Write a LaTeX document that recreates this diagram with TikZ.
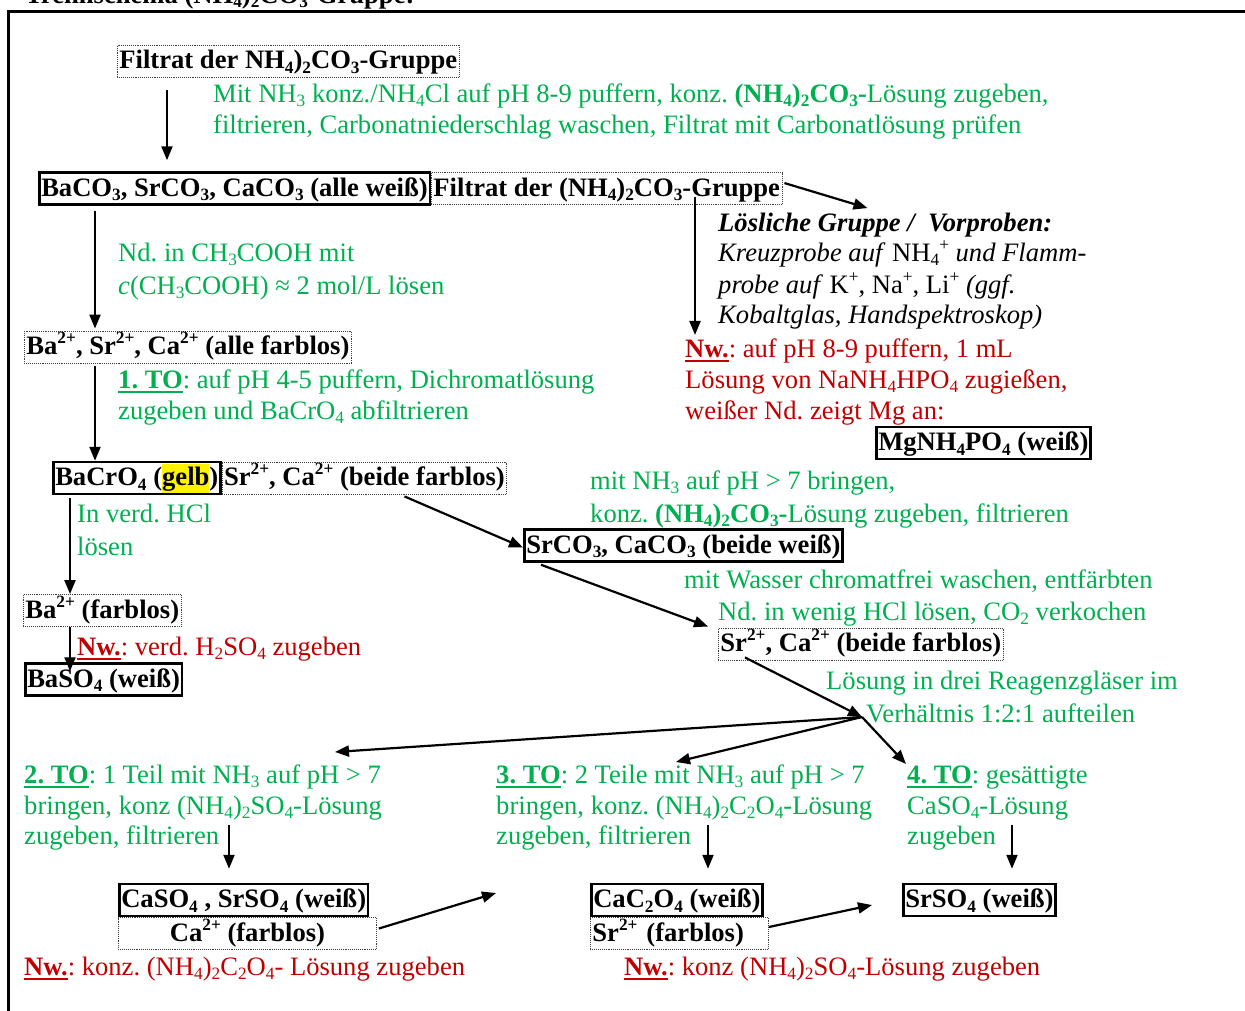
\documentclass[tikz,border=0pt]{standalone}
\usepackage{fontspec}
\setmainfont{Liberation Serif}
\usetikzlibrary{arrows.meta,calc}
\definecolor{tgreen}{RGB}{0,176,80}
\definecolor{tred}{RGB}{192,0,0}
\frenchspacing
% chemical sub- and superscripts
\newcommand\chsub[1]{\raisebox{-0.17em}{\fontsize{17.3}{18}\selectfont #1}}
\newcommand\chsup[1]{\raisebox{0.4em}{\fontsize{17.3}{18}\selectfont #1}}
% bold underlined keyword (Nw., TO)
\newcommand\ulb[1]{\setbox0=\hbox{\bfseries #1}\rlap{\rule[-5pt]{\wd0}{2.5pt}}\box0}
% highlighted word
\newcommand\hlt[1]{{\setlength\fboxsep{0pt}\colorbox{yellow}{\rule[-7pt]{0pt}{29pt}#1}}}
\begin{document}
\begin{tikzpicture}[x=1pt,y=-1pt,
  every node/.style={font=\fontsize{26.6}{31}\selectfont, inner sep=0pt},
  txt/.style={anchor=base west},
  grn/.style={txt,text=tgreen},
  rd/.style={txt,text=tred},
  box/.style={anchor=west,font=\fontsize{26.6}{31}\selectfont\bfseries,
    text height=22pt,text depth=7pt,inner xsep=2pt,inner ysep=1.5pt},
  solidbox/.style={box,draw,line width=2.5pt},
  dotbox/.style={box,draw=black!75,densely dotted,line width=0.9pt},
  arr/.style={line width=2.2pt,-{Triangle[length=14pt,width=11pt]}},
  frame/.style={line width=3pt}]
\useasboundingbox (0,0) rectangle (1245,1010);
\clip (0,0) rectangle (1245,1010);

% heading and frame
\node[txt,font=\fontsize{26.6}{31}\selectfont\bfseries] (title) at (25,3)
  {Trennschema (NH\chsub{4})\chsub{2}CO\chsub{3}-Gruppe:};
\draw[frame] (1260,11) -- (8,11) -- (8,1020);

% boxes
\node[dotbox]   (n1)  at (117,61)    {Filtrat der NH\chsub{4})\chsub{2}CO\chsub{3}-Gruppe};
\node[solidbox] (n2)  at (38,188.5)  {BaCO\chsub{3}, SrCO\chsub{3}, CaCO\chsub{3} (alle weiß)};
\node[dotbox]   (n3)  at (n2.east)   {Filtrat der (NH\chsub{4})\chsub{2}CO\chsub{3}-Gruppe};
\node[solidbox] (n4)  at (875,443)   {MgNH\chsub{4}PO\chsub{4} (weiß)};
\node[dotbox]   (n5)  at (24,347)    {Ba\chsup{2+}, Sr\chsup{2+}, Ca\chsup{2+} (alle farblos)};
\node[solidbox] (n6)  at (52,478)    {BaCrO\chsub{4} (\hlt{gelb})};
\node[dotbox]   (n7)  at (n6.east)   {Sr\chsup{2+}, Ca\chsup{2+} (beide farblos)};
\node[solidbox] (n8)  at (523,545.5) {SrCO\chsub{3}, CaCO\chsub{3} (beide weiß)};
\node[dotbox]   (n9)  at (23,610.5)  {Ba\chsup{2+} (farblos)};
\node[solidbox] (n10) at (24,679.5)  {BaSO\chsub{4} (weiß)};
\node[dotbox]   (n11) at (718,644)   {Sr\chsup{2+}, Ca\chsup{2+} (beide farblos)};
\node[solidbox] (n12) at (118,900)   {CaSO\chsub{4} , SrSO\chsub{4} (weiß)};
\node[dotbox,minimum width=258pt] (n13) at (118,933.5) {Ca\chsup{2+} (farblos)};
\node[solidbox] (n14) at (590,900)   {CaC\chsub{2}O\chsub{4} (weiß)};
\node[dotbox,text width=174pt,align=left] (n15) at (590,933.5) {Sr\chsup{2+} (farblos)};
\node[solidbox] (n16) at (902,900)   {SrSO\chsub{4} (weiß)};

% instructions
\node[grn] (t1a) at (213,102) {Mit NH\chsub{3} konz./NH\chsub{4}Cl auf pH 8-9 puffern, konz. \textbf{(NH\chsub{4})\chsub{2}CO\chsub{3}-}Lösung zugeben,};
\node[grn] (t1b) at (213,133) {filtrieren, Carbonatniederschlag waschen, Filtrat mit Carbonatlösung prüfen};

\node[grn] (t2a) at (118,261) {Nd. in CH\chsub{3}COOH mit};
\node[grn] (t2b) at (118,294) {\textit{c}(CH\chsub{3}COOH) ≈ 2 mol/L lösen};

\node[txt] (t3a) at (718,231) {\textbf{\textit{Lösliche Gruppe /\ \ Vorproben:}}};
\node[txt] (t3b) at (718,261) {\textit{Kreuzprobe auf} NH\chsub{4}\chsup{+} \textit{und Flamm-}};
\node[txt] (t3c) at (718,293) {\textit{probe auf} K\chsup{+}, Na\chsup{+}, Li\chsup{+} \textit{(ggf.}};
\node[txt] (t3d) at (718,323) {\textit{Kobaltglas, Handspektroskop)}};

\node[rd] (t4a) at (685,357) {\ulb{Nw.}: auf pH 8-9 puffern, 1 mL};
\node[rd] (t4b) at (685,388) {Lösung von NaNH\chsub{4}HPO\chsub{4} zugießen,};
\node[rd] (t4c) at (685,419) {weißer Nd. zeigt Mg an:};

\node[grn] (t5a) at (118,388) {\ulb{1. TO}: auf pH 4-5 puffern, Dichromatlösung};
\node[grn] (t5b) at (118,419) {zugeben und BaCrO\chsub{4} abfiltrieren};

\node[grn] (t6a) at (590,489) {mit NH\chsub{3} auf pH > 7 bringen,};
\node[grn] (t6b) at (590,522) {konz. \textbf{(NH\chsub{4})\chsub{2}CO\chsub{3}-}Lösung zugeben, filtrieren};

\node[grn] (t7a) at (77,522) {In verd. HCl};
\node[grn] (t7b) at (77,555) {lösen};
\node[rd]  (t8)  at (77,655) {\ulb{Nw.}: verd. H\chsub{2}SO\chsub{4} zugeben};

\node[grn] (t9a) at (684,588) {mit Wasser chromatfrei waschen, entfärbten};
\node[grn] (t9b) at (718,620) {Nd. in wenig HCl lösen, CO\chsub{2} verkochen};

\node[grn] (t10a) at (826,689) {Lösung in drei Reagenzgläser im};
\node[grn] (t10b) at (866,722) {Verhältnis 1:2:1 aufteilen};

\node[grn] (t11a) at (24,783) {\ulb{2. TO}: 1 Teil mit NH\chsub{3} auf pH > 7};
\node[grn] (t11b) at (24,814) {bringen, konz (NH\chsub{4})\chsub{2}SO\chsub{4}-Lösung};
\node[grn] (t11c) at (24,844) {zugeben, filtrieren};

\node[grn] (t12a) at (496,783) {\ulb{3. TO}: 2 Teile mit NH\chsub{3} auf pH > 7};
\node[grn] (t12b) at (496,814) {bringen, konz. (NH\chsub{4})\chsub{2}C\chsub{2}O\chsub{4}-Lösung};
\node[grn] (t12c) at (496,844) {zugeben, filtrieren};

\node[grn] (t13a) at (907,783) {\ulb{4. TO}: gesättigte};
\node[grn] (t13b) at (907,814) {CaSO\chsub{4}-Lösung};
\node[grn] (t13c) at (907,844) {zugeben};

\node[rd] (t14) at (24,975)  {\ulb{Nw.}: konz. (NH\chsub{4})\chsub{2}C\chsub{2}O\chsub{4}- Lösung zugeben};
\node[rd] (t15) at (624,975) {\ulb{Nw.}: konz (NH\chsub{4})\chsub{2}SO\chsub{4}-Lösung zugeben};

% free arrow ends
\coordinate (split)  at (862,717);
\coordinate (soluble) at ($(n3.north east)+(85,36)$);
\coordinate (nwmg)   at ($(n3.south west)+(264,130)$);
\coordinate (to2)    at (335,752);
\coordinate (to3)    at (676,762);
\coordinate (to4)    at (906,764);
\coordinate (f2)     at ($(n12.north west)+(111,-58)$);
\coordinate (f3)     at ($(n14.north west)+(118,-58)$);
\coordinate (f4)     at ($(n16.north west)+(110,-58)$);
\coordinate (next3)  at (496,893);

% arrows
\draw[arr] ($(n1.south west)+(50,13)$) -- ($(n2.north west)+(129,-11)$);
\draw[arr] ($(n3.north east)+(2,11)$) -- (soluble);
\draw[arr] ($(n3.south west)+(264,-8)$) -- (nwmg);
\draw[arr] ($(n2.south west)+(57,5)$) -- ($(n5.north west)+(71,-2)$);
\draw[arr] ($(n5.south west)+(71,3)$) -- ($(n6.north west)+(43,0)$);
\draw[arr] ($(n7.south west)+(183,2)$) -- ($(n8.west)+(0,2)$);
\draw[arr] ($(n6.south west)+(18,3)$) -- ($(n9.north west)+(47,0)$);
\draw[arr] ($(n9.south west)+(47,0)$) -- ($(n10.north west)+(46,9)$);
\draw[arr] ($(n8.south west)+(18,2)$) -- ($(n11.north west)+(-10,-1)$);
\draw[arr] ($(n11.south west)+(27,-3)$) -- (split);
\draw[arr] (split) -- (to2);
\draw[arr] (split) -- (to3);
\draw[arr] (split) -- (to4);
\draw[arr] (f2) -- ($(n12.north west)+(111,-14)$);
\draw[arr] (f3) -- ($(n14.north west)+(118,-14)$);
\draw[arr] (f4) -- ($(n16.north west)+(110,-14)$);
\draw[arr] ($(n13.east)+(2,-5)$) -- (next3);
\draw[arr] ($(n15.east)+(0,-6.5)$) -- ($(n16.west)+(-30,5)$);
\end{tikzpicture}
\end{document}
